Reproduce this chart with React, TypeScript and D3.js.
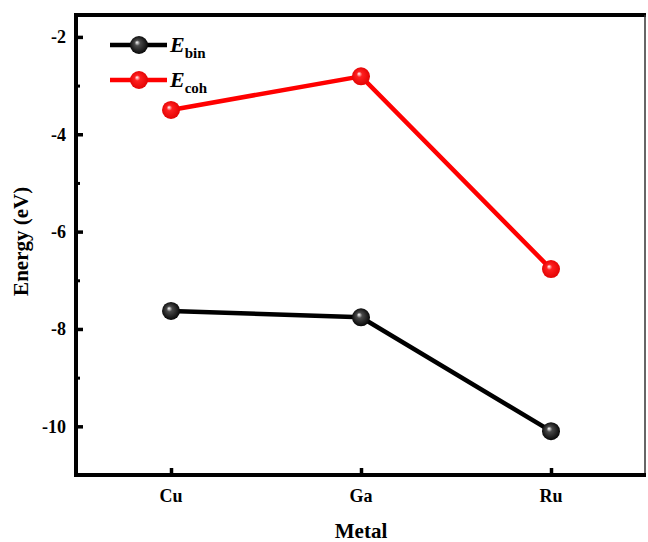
import React, { useEffect, useRef } from "react";
import * as d3 from "d3";

const metals = ["Cu", "Ga", "Ru"];
const eBin = [-7.63, -7.76, -10.1];
const eCoh = [-3.5, -2.81, -6.77];
const yTicks = [-2, -4, -6, -8, -10];
const yMinorTicks = [-3, -5, -7, -9];

const App = () => {
  const svgRef = useRef<SVGSVGElement>(null);

  useEffect(() => {
    const width = 648;
    const height = 542;
    const margin = { top: 15, right: 2, bottom: 67, left: 76 };
    const innerWidth = width - margin.left - margin.right;
    const innerHeight = height - margin.top - margin.bottom;
    const font = "'Liberation Serif', 'Times New Roman', serif";

    const svg = d3.select(svgRef.current);
    svg.selectAll("*").remove();
    svg.attr("width", width).attr("height", height);

    const defs = svg.append("defs");
    const makeGrad = (id, base, dark) => {
      const g = defs
        .append("radialGradient")
        .attr("id", id)
        .attr("cx", "50%")
        .attr("cy", "50%")
        .attr("r", "55%")
        .attr("fx", "38%")
        .attr("fy", "35%");
      g.append("stop").attr("offset", "0%").attr("stop-color", "#ffffff");
      g.append("stop").attr("offset", "28%").attr("stop-color", base);
      g.append("stop").attr("offset", "100%").attr("stop-color", dark);
    };
    makeGrad("gBlack", "#4a4a4a", "#000000");
    makeGrad("gRed", "#ff2020", "#e00000");

    const g = svg
      .append("g")
      .attr("transform", `translate(${margin.left},${margin.top})`);

    const x = d3
      .scalePoint()
      .domain(metals)
      .range([0, innerWidth])
      .padding(0.5);

    const y = d3.scaleLinear().domain([-11, -1.55]).range([innerHeight, 0]);

    // frame
    g.append("line")
      .attr("x1", 0).attr("x2", innerWidth)
      .attr("y1", 0).attr("y2", 0)
      .attr("stroke", "#000").attr("stroke-width", 4);
    g.append("line")
      .attr("x1", innerWidth - 1).attr("x2", innerWidth - 1)
      .attr("y1", 0).attr("y2", innerHeight)
      .attr("stroke", "#333").attr("stroke-width", 1.5);

    // y axis, ticks inside
    const yAxis = g.append("g");
    yAxis.call(d3.axisRight(y).tickValues(yTicks).tickSize(7).tickFormat(() => ""));
    yAxis.select(".domain").remove();
    yAxis.selectAll(".tick line").attr("stroke", "#000").attr("stroke-width", 3.5);
    const yMinor = g.append("g");
    yMinor.call(d3.axisRight(y).tickValues(yMinorTicks).tickSize(4).tickFormat(() => ""));
    yMinor.select(".domain").remove();
    yMinor.selectAll(".tick line").attr("stroke", "#000").attr("stroke-width", 3);

    g.selectAll(".ylab")
      .data(yTicks)
      .enter()
      .append("text")
      .attr("x", -10)
      .attr("y", (d) => y(d))
      .attr("dy", "0.35em")
      .attr("text-anchor", "end")
      .attr("font-family", font)
      .attr("font-weight", "bold")
      .attr("font-size", 18)
      .text((d) => d);

    // x axis, ticks inside
    const xAxis = g.append("g").attr("transform", `translate(0,${innerHeight})`);
    xAxis.call(d3.axisTop(x).tickSize(7).tickFormat(() => ""));
    xAxis.select(".domain").remove();
    xAxis.selectAll(".tick line").attr("stroke", "#000").attr("stroke-width", 3.5);

    g.selectAll(".xlab")
      .data(metals)
      .enter()
      .append("text")
      .attr("x", (d) => x(d))
      .attr("y", innerHeight + 27)
      .attr("text-anchor", "middle")
      .attr("font-family", font)
      .attr("font-weight", "bold")
      .attr("font-size", 18)
      .text((d) => d);

    // axis lines
    g.append("line")
      .attr("x1", 0).attr("x2", 0)
      .attr("y1", -2).attr("y2", innerHeight + 2)
      .attr("stroke", "#000").attr("stroke-width", 4);
    g.append("line")
      .attr("x1", -2).attr("x2", innerWidth)
      .attr("y1", innerHeight).attr("y2", innerHeight)
      .attr("stroke", "#000").attr("stroke-width", 4);

    // axis titles
    svg.append("text")
      .attr("transform", `translate(28,${margin.top + y(-6.2)}) rotate(-90)`)
      .attr("text-anchor", "middle")
      .attr("font-family", font)
      .attr("font-weight", "bold")
      .attr("font-size", 21)
      .text("Energy (eV)");
    svg.append("text")
      .attr("x", margin.left + x("Ga"))
      .attr("y", 538)
      .attr("text-anchor", "middle")
      .attr("font-family", font)
      .attr("font-weight", "bold")
      .attr("font-size", 21)
      .text("Metal");

    const series = [
      { values: eBin, color: "#000000", grad: "url(#gBlack)" },
      { values: eCoh, color: "#ff0000", grad: "url(#gRed)" },
    ];

    const line = d3
      .line<number>()
      .x((d, i) => x(metals[i]))
      .y((d) => y(d));

    series.forEach((s) => {
      g.append("path")
        .datum(s.values)
        .attr("d", line)
        .attr("fill", "none")
        .attr("stroke", s.color)
        .attr("stroke-width", 4.5);
      g.selectAll(null)
        .data(s.values)
        .enter()
        .append("circle")
        .attr("cx", (d, i) => x(metals[i]))
        .attr("cy", (d) => y(d))
        .attr("r", 9)
        .attr("fill", s.grad);
    });

    // legend
    const legend = [
      { label: "bin", color: "#000000", grad: "url(#gBlack)", yy: 45 },
      { label: "coh", color: "#ff0000", grad: "url(#gRed)", yy: 80 },
    ];
    legend.forEach((l) => {
      svg.append("line")
        .attr("x1", 110).attr("x2", 167)
        .attr("y1", l.yy).attr("y2", l.yy)
        .attr("stroke", l.color).attr("stroke-width", 4.5);
      svg.append("circle")
        .attr("cx", 139).attr("cy", l.yy).attr("r", 9)
        .attr("fill", l.grad);
      const t = svg.append("text")
        .attr("x", 170)
        .attr("y", l.yy + 7)
        .attr("font-family", font)
        .attr("font-weight", "bold")
        .attr("font-size", 22);
      t.append("tspan").attr("font-style", "italic").text("E");
      t.append("tspan")
        .attr("font-size", 15)
        .attr("dy", 6)
        .text(l.label);
    });
  }, []);

  return (
    <svg
      ref={svgRef}
      style={{ position: "absolute", left: 0, top: 0, display: "block" }}
    ></svg>
  );
};

export default App;
